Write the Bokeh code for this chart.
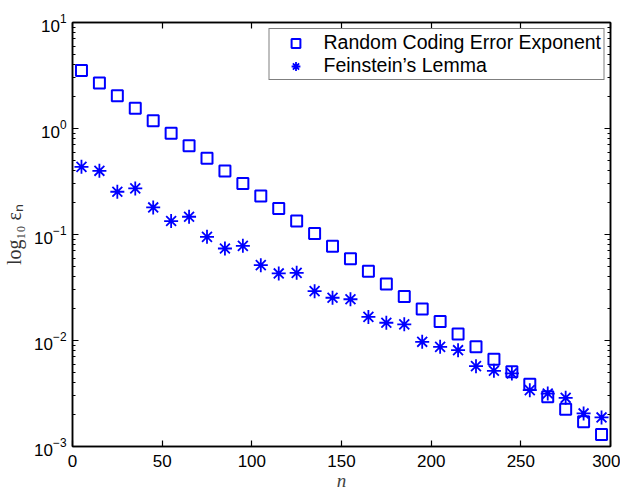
from bokeh.plotting import figure
from bokeh.models import (Range1d, LinearAxis, LogAxis, FixedTicker, Legend, LegendItem,
                          CustomJSTickFormatter)
from bokeh.embed import file_html
from bokeh.resources import INLINE

# ---- data ----
n_values = [5, 15, 25, 35, 45, 55, 65, 75, 85, 95, 105, 115, 125, 135, 145,
            155, 165, 175, 185, 195, 205, 215, 225, 235, 245, 255, 265, 275, 285, 295]
random_coding = [3.52, 2.68, 2.04, 1.555, 1.184, 0.902, 0.687, 0.523, 0.398, 0.303,
                 0.231, 0.176, 0.134, 0.102, 0.0775, 0.059, 0.0449, 0.0342, 0.026, 0.0198,
                 0.0151, 0.0115, 0.00875, 0.00666, 0.00507, 0.00386, 0.00294, 0.00224,
                 0.00171, 0.0013]
feinstein = [0.435, 0.399, 0.253, 0.272, 0.18, 0.134, 0.147, 0.095, 0.0738, 0.0782,
             0.0514, 0.0429, 0.0435, 0.0292, 0.0253, 0.0245, 0.0167, 0.0147, 0.0142, 0.00972,
             0.00871, 0.0081, 0.00573, 0.00518, 0.00489, 0.0034, 0.00316, 0.00288,
             0.00205, 0.00188]
x_ticks = [0, 50, 100, 150, 200, 250, 300]
y_ticks = [1e-3, 1e-2, 1e-1, 1e0, 1e1]
y_minor = [m * d for d in [1e-3, 1e-2, 1e-1, 1e0] for m in range(2, 10)]
series_names = ["Random Coding Error Exponent", "Feinstein\u2019s Lemma"]

BLUE = "#0000ff"
FONT = "Liberation Sans"

p = figure(frame_width=538, frame_height=424, y_axis_type="log",
           x_range=Range1d(0, 300), y_range=Range1d(1e-3, 1e1),
           output_backend="svg", toolbar_location=None,
           min_border_left=64, min_border_top=22, min_border_right=10, min_border_bottom=30)
p.grid.visible = False
p.outline_line_color = "black"
p.outline_line_width = 1.5
p.background_fill_color = "white"
p.border_fill_color = "white"

sq = p.scatter(n_values, random_coding, marker="square", size=11, line_width=2,
               line_color=BLUE, fill_color=None)
st = p.scatter(n_values, feinstein, marker="asterisk", size=14, line_width=1.8,
               line_color=BLUE)

def style_axis(ax):
    ax.axis_line_color = "black"
    ax.axis_line_width = 1.5
    ax.major_tick_in = 6
    ax.major_tick_out = 0
    ax.minor_tick_in = 3
    ax.minor_tick_out = 0
    ax.major_tick_line_width = 1.2
    ax.minor_tick_line_width = 1.2
    ax.major_label_text_font = FONT
    ax.major_label_text_font_size = "17px"
    ax.major_label_text_color = "black"

xa = p.xaxis[0]
xa.ticker = FixedTicker(ticks=x_ticks)
style_axis(xa)
xa.major_label_standoff = 8
xa.axis_label = "n"
xa.axis_label_text_font = "Liberation Serif"
xa.axis_label_text_font_style = "italic"
xa.axis_label_text_font_size = "19px"
xa.axis_label_standoff = 0

ya = p.yaxis[0]
ya.ticker = FixedTicker(ticks=y_ticks, minor_ticks=y_minor)
style_axis(ya)
ya.major_label_standoff = 6
ya.axis_label = "log\u2081\u2080 \u03b5\u2099"
ya.axis_label_text_font = "Liberation Serif"
ya.axis_label_text_font_style = "normal"
ya.axis_label_text_font_size = "20px"
ya.axis_label_text_color = "#333333"
ya.axis_label_standoff = 6

blank = CustomJSTickFormatter(code="return ''")
top = LinearAxis(ticker=FixedTicker(ticks=x_ticks), formatter=blank)
style_axis(top)
top.major_label_text_font_size = "0px"
top.major_label_standoff = 0
p.add_layout(top, "above")

right = LogAxis(ticker=FixedTicker(ticks=y_ticks, minor_ticks=y_minor), formatter=blank)
style_axis(right)
right.major_label_text_font_size = "0px"
right.major_label_standoff = 0
p.add_layout(right, "right")

legend = Legend(items=[LegendItem(label=series_names[0], renderers=[sq]),
                       LegendItem(label=series_names[1], renderers=[st])],
                location="top_right")
legend.margin = 6
legend.padding = 2
legend.spacing = 0
legend.glyph_width = 48
legend.glyph_height = 22
legend.label_height = 22
legend.label_standoff = 4
legend.label_text_font = FONT
legend.label_text_font_size = "19.5px"
legend.label_text_color = "black"
legend.border_line_color = "black"
legend.border_line_width = 1.2
legend.background_fill_alpha = 1
p.add_layout(legend, "center")

open("out.html", "w").write(file_html(p, INLINE))
